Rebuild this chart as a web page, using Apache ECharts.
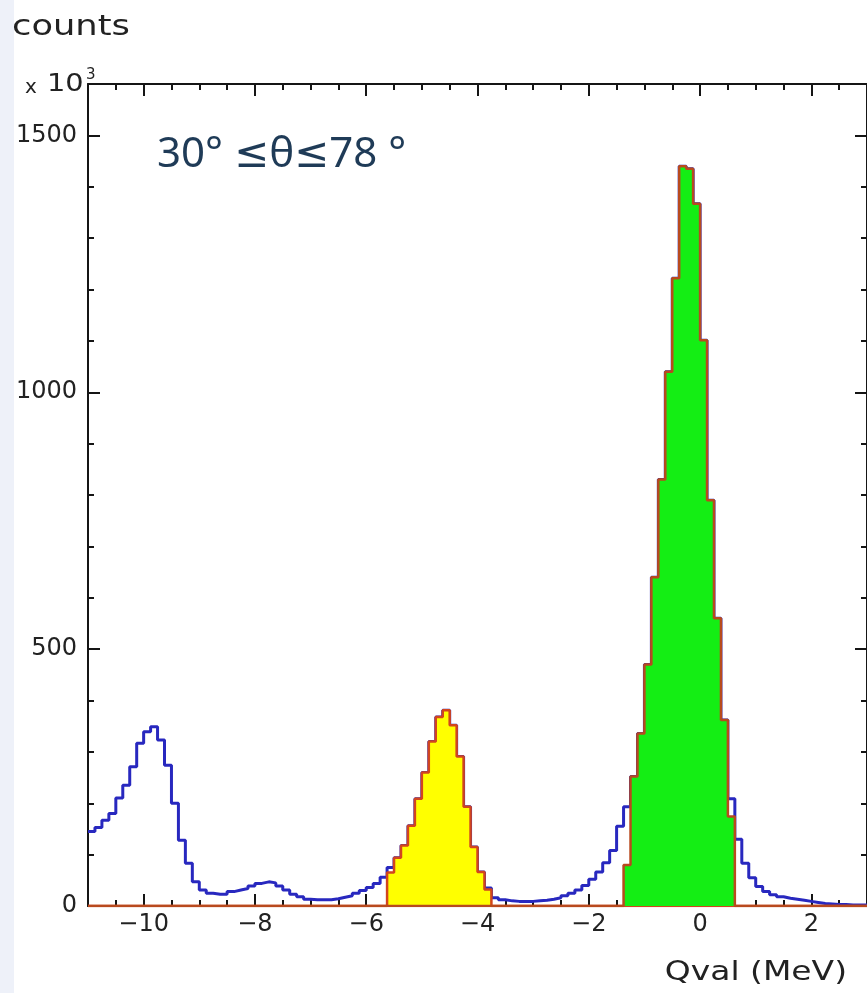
<!DOCTYPE html>
<html>
<head>
<meta charset="utf-8">
<style>
  html, body { margin: 0; padding: 0; background: #fff; }
  #chart { width: 867px; height: 993px; }
</style>
<script src="https://cdn.jsdelivr.net/npm/echarts@6.0.0/dist/echarts.min.js"></script>
</head>
<body>
<div id="chart"></div>
<script>
// histogram binning (MeV)
const xMin = -11;
const xMax = 3;
const binWidth = 0.125;

// counts per bin (x10^3)
const blueCounts = [
  145, 153, 167, 180, 210, 235, 271, 317, 339, 349,
  323, 274, 200, 128, 83, 47, 31, 25, 23, 23,
  28, 31, 34, 39, 44, 47, 45, 39, 31, 23,
  18, 13, 12, 12, 12, 14, 17, 20, 25, 30,
  36, 44, 56, 75, 94, 118, 156, 209, 260, 320,
  368, 381, 352, 291, 193, 115, 66, 35, 16, 12,
  10, 9, 9, 9, 10, 11, 13, 16, 20, 25,
  31, 40, 52, 66, 84, 108, 155, 193, 252, 336,
  470, 640, 830, 1040, 1222, 1440, 1435, 1367, 1101, 790,
  560, 362, 209, 130, 83, 55, 38, 28, 22, 18,
  15, 13, 11, 9, 7, 5, 4, 3, 3, 2,
  2, 2
];
const yellowStart = 43;
const yellowCounts = [65, 94, 118, 156, 209, 260, 320, 368, 381, 352, 291, 193, 115, 66, 32];
const greenStart = 77;
const greenCounts = [80, 252, 336, 470, 640, 830, 1040, 1222, 1440, 1435, 1367, 1101, 790, 560, 362, 174];

const xMajorTicks = [-10, -8, -6, -4, -2, 0, 2];
const yMajorTicks = [0, 500, 1000, 1500];

// left bin edges + closing point, for a step line
function stepPoints(counts, start) {
  const n = blueCounts.length;
  const pts = [];
  for (let k = 0; k < n; k++) {
    const i = k - start;
    const v = i >= 0 && i < counts.length ? counts[i] : 0;
    pts.push([xMin + k * binWidth, v]);
  }
  pts.push([xMax, pts[n - 1][1]]);
  return pts;
}

const ink = '#151515';
const lineStyle = { color: ink, width: 2 };

function xAxisDef(position, major, withLabels) {
  return {
    type: 'value',
    position: position,
    min: xMin,
    max: xMax,
    interval: major ? undefined : 0.5,
    axisLine: { show: !major, onZero: false, lineStyle: lineStyle },
    axisTick: major
      ? { inside: true, length: 12, customValues: xMajorTicks, lineStyle: lineStyle }
      : { inside: true, length: 6, lineStyle: lineStyle },
    axisLabel: withLabels
      ? {
          customValues: xMajorTicks,
          formatter: (v) => String(v).replace('-', '\u2212'),
          fontFamily: 'DejaVu Sans',
          fontSize: 24,
          color: '#222',
          margin: 7
        }
      : { show: false },
    splitLine: { show: false }
  };
}

function yAxisDef(position, major, withLabels) {
  return {
    type: 'value',
    position: position,
    min: 0,
    max: 1600,
    interval: major ? undefined : 100,
    axisLine: { show: !major, onZero: false, lineStyle: lineStyle },
    axisTick: major
      ? { inside: true, length: 12, customValues: yMajorTicks, lineStyle: lineStyle }
      : { inside: true, length: 6, lineStyle: lineStyle },
    axisLabel: withLabels
      ? {
          customValues: yMajorTicks,
          formatter: (v) => String(v),
          fontFamily: 'DejaVu Sans',
          fontSize: 24,
          color: '#222',
          margin: 11
        }
      : { show: false },
    splitLine: { show: false }
  };
}

const chart = echarts.init(document.getElementById('chart'));
chart.setOption({
  animation: false,
  backgroundColor: '#fff',
  grid: { left: 88, right: 0, top: 84, bottom: 87, containLabel: false },
  xAxis: [
    xAxisDef('bottom', false, false),
    xAxisDef('bottom', true, true),
    xAxisDef('top', false, false),
    xAxisDef('top', true, false)
  ],
  yAxis: [
    yAxisDef('left', false, false),
    yAxisDef('left', true, true),
    yAxisDef('right', false, false),
    yAxisDef('right', true, false)
  ],
  series: [
    {
      name: 'all',
      type: 'line',
      step: 'end',
      symbol: 'none',
      xAxisIndex: 0,
      yAxisIndex: 0,
      data: stepPoints(blueCounts, 0),
      lineStyle: { color: '#2828bf', width: 3 },
      z: 3
    },
    {
      name: 'peak1',
      type: 'line',
      step: 'end',
      symbol: 'none',
      xAxisIndex: 0,
      yAxisIndex: 0,
      data: stepPoints(yellowCounts, yellowStart),
      lineStyle: { color: '#d2451e', width: 2.5 },
      areaStyle: { color: '#ffff00', opacity: 1 },
      z: 4
    },
    {
      name: 'peak0',
      type: 'line',
      step: 'end',
      symbol: 'none',
      xAxisIndex: 0,
      yAxisIndex: 0,
      data: stepPoints(greenCounts, greenStart),
      lineStyle: { color: '#b84a1e', width: 2.5 },
      areaStyle: { color: '#14ee14', opacity: 1 },
      z: 5
    }
  ],
  graphic: [
    { type: 'rect', shape: { x: 0, y: 0, width: 14, height: 993 }, style: { fill: '#eef1f9' }, z: -10 },
    {
      type: 'text', x: 12, y: 28, scaleX: 1.26,
      style: { text: 'counts', font: '28px "DejaVu Sans"', fill: '#222', verticalAlign: 'middle', textVerticalAlign: 'middle' }
    },
    {
      type: 'text', x: 25, y: 88,
      style: { text: 'x', font: '20px "DejaVu Sans"', fill: '#222', verticalAlign: 'middle', textVerticalAlign: 'middle' }
    },
    {
      type: 'text', x: 47, y: 85, scaleX: 1.2,
      style: { text: '10', font: '24px "DejaVu Sans"', fill: '#222', verticalAlign: 'middle', textVerticalAlign: 'middle' }
    },
    {
      type: 'text', x: 86, y: 75,
      style: { text: '3', font: '15px "DejaVu Sans"', fill: '#222', verticalAlign: 'middle', textVerticalAlign: 'middle' }
    },
    {
      type: 'text', x: 847, y: 973, scaleX: 1.22,
      style: { text: 'Qval (MeV)', font: '27px "DejaVu Sans"', fill: '#222', align: 'right', textAlign: 'right', verticalAlign: 'middle', textVerticalAlign: 'middle' }
    },
    {
      type: 'text', x: 157, y: 155,
      style: { text: '30° ≤θ≤78 °', font: '42px "Noto Sans", "DejaVu Sans"', fill: '#1f3b57', verticalAlign: 'middle', textVerticalAlign: 'middle' }
    }
  ]
});
</script>
</body>
</html>
